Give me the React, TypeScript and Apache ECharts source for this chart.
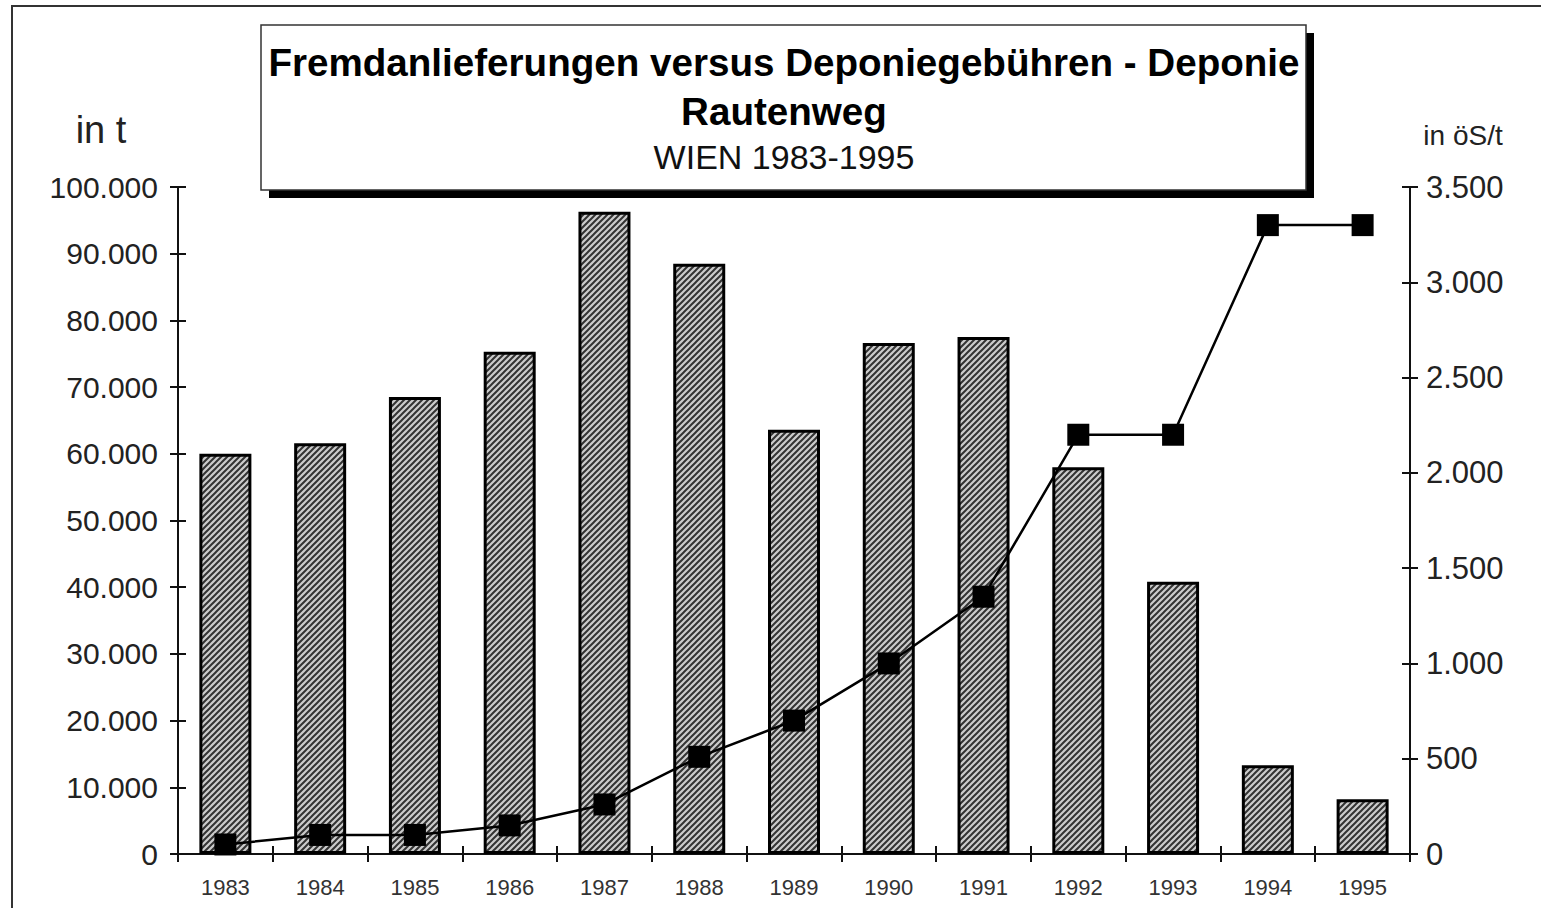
import React, { useEffect, useRef } from "react";
import * as echarts from "echarts";

const years = ["1983", "1984", "1985", "1986", "1987", "1988", "1989", "1990", "1991", "1992", "1993", "1994", "1995"];
const deliveries = [60000, 61600, 68500, 75300, 96300, 88500, 63600, 76600, 77500, 58000, 40800, 13300, 8200];
const fees = [50, 100, 100, 150, 260, 510, 700, 1000, 1350, 2200, 2200, 3300, 3300];
const titleLine1 = "Fremdanlieferungen versus Deponiegebühren - Deponie";
const titleLine2 = "Rautenweg";
const subtitle = "WIEN 1983-1995";
const leftUnit = "in t";
const rightUnit = "in öS/t";

const FONT = "'Liberation Sans', Arial, Helvetica, sans-serif";

function fmtDe(v: number) {
  return String(v).replace(/\B(?=(\d{3})+(?!\d))/g, ".");
}

function makeHatch() {
  const s = 6;
  const c = document.createElement("canvas");
  c.width = s;
  c.height = s;
  const ctx = c.getContext("2d")!;
  ctx.fillStyle = "#cccccc";
  ctx.fillRect(0, 0, s, s);
  ctx.strokeStyle = "#333333";
  ctx.lineWidth = 2;
  ctx.beginPath();
  ctx.moveTo(-1, s + 1);
  ctx.lineTo(s + 1, -1);
  ctx.moveTo(-1, 1);
  ctx.lineTo(1, -1);
  ctx.moveTo(s - 1, s + 1);
  ctx.lineTo(s + 1, s - 1);
  ctx.stroke();
  return c;
}

export default function App() {
  const ref = useRef<HTMLDivElement>(null);
  useEffect(() => {
    document.body.style.margin = "0";
    const chart = echarts.init(ref.current!, undefined, { renderer: "svg" });
    const hatch = makeHatch();
    const axisLineStyle = { color: "#111", width: 2 };
    const grid = { left: 178, right: 131, top: 187, bottom: 54 };
    chart.setOption({
      animation: false,
      backgroundColor: "#fff",
      grid,
      graphic: [
        { type: "rect", shape: { x: 12, y: 6, width: 1700, height: 1100 }, style: { fill: "none", stroke: "#333", lineWidth: 2 }, silent: true },
        { type: "rect", shape: { x: 269, y: 33, width: 1045, height: 165 }, style: { fill: "#000" } },
        { type: "rect", shape: { x: 261, y: 25, width: 1045, height: 165 }, style: { fill: "#fff", stroke: "#333", lineWidth: 1.5 } },
        { type: "text", x: 784, y: 62, style: { text: titleLine1, font: `bold 38.6px ${FONT}`, fill: "#000", align: "center", verticalAlign: "middle" } },
        { type: "text", x: 784, y: 111, style: { text: titleLine2, font: `bold 38.6px ${FONT}`, fill: "#000", align: "center", verticalAlign: "middle" } },
        { type: "text", x: 784, y: 157, style: { text: subtitle, font: `34px ${FONT}`, fill: "#111", align: "center", verticalAlign: "middle" } },
        { type: "text", x: 101, y: 130, style: { text: leftUnit, font: `38px ${FONT}`, fill: "#222", align: "center", verticalAlign: "middle" } },
        { type: "text", x: 1463, y: 135, style: { text: rightUnit, font: `28px ${FONT}`, fill: "#222", align: "center", verticalAlign: "middle" } },
      ],
      xAxis: [
        {
          type: "category",
          data: years,
          position: "bottom",
          axisLine: { lineStyle: axisLineStyle },
          axisTick: { show: true, length: 8, lineStyle: { color: "#111", width: 2 } },
          axisLabel: { color: "#333", fontSize: 22, fontFamily: FONT, margin: 22 },
          splitLine: { show: false },
        },
        {
          type: "category",
          data: years,
          position: "bottom",
          axisLine: { show: false },
          axisTick: { show: true, inside: true, length: 8, lineStyle: { color: "#111", width: 2 } },
          axisLabel: { show: false },
          splitLine: { show: false },
        },
      ],
      yAxis: [
        {
          type: "value",
          position: "left",
          min: 0,
          max: 100000,
          interval: 10000,
          axisLine: { show: true, lineStyle: axisLineStyle },
          axisTick: { show: true, length: 8, lineStyle: { color: "#111", width: 2 } },
          axisLabel: { color: "#222", fontSize: 30, fontFamily: FONT, margin: 20, formatter: (v: number) => fmtDe(v) },
          splitLine: { show: false },
        },
        {
          type: "value",
          position: "right",
          min: 0,
          max: 3500,
          interval: 500,
          axisLine: { show: true, lineStyle: axisLineStyle },
          axisTick: { show: true, length: 8, lineStyle: { color: "#111", width: 2 } },
          axisLabel: { color: "#222", fontSize: 31, fontFamily: FONT, margin: 16, formatter: (v: number) => fmtDe(v) },
          splitLine: { show: false },
        },
        {
          type: "value",
          position: "left",
          min: 0,
          max: 100000,
          interval: 10000,
          axisLine: { show: false },
          axisTick: { show: true, inside: true, length: 8, lineStyle: { color: "#111", width: 2 } },
          axisLabel: { show: false },
          splitLine: { show: false },
        },
        {
          type: "value",
          position: "right",
          min: 0,
          max: 3500,
          interval: 500,
          axisLine: { show: false },
          axisTick: { show: true, inside: true, length: 8, lineStyle: { color: "#111", width: 2 } },
          axisLabel: { show: false },
          splitLine: { show: false },
        },
      ],
      series: [
        {
          type: "bar",
          name: "Fremdanlieferungen",
          data: deliveries,
          xAxisIndex: 0,
          yAxisIndex: 0,
          barWidth: 52,
          itemStyle: {
            color: { image: hatch, repeat: "repeat", imageWidth: 6, imageHeight: 6 },
            borderColor: "#000",
            borderWidth: 3,
          },
          z: 2,
        },
        {
          type: "line",
          name: "Deponiegebühren",
          data: fees,
          xAxisIndex: 0,
          yAxisIndex: 1,
          symbol: "rect",
          symbolSize: 22,
          showAllSymbol: true,
          lineStyle: { color: "#000", width: 2.5 },
          itemStyle: { color: "#000" },
          z: 5,
        },
      ],
    });
    return () => chart.dispose();
  }, []);
  return <div ref={ref} style={{ width: 1541, height: 908 }} />;
}
